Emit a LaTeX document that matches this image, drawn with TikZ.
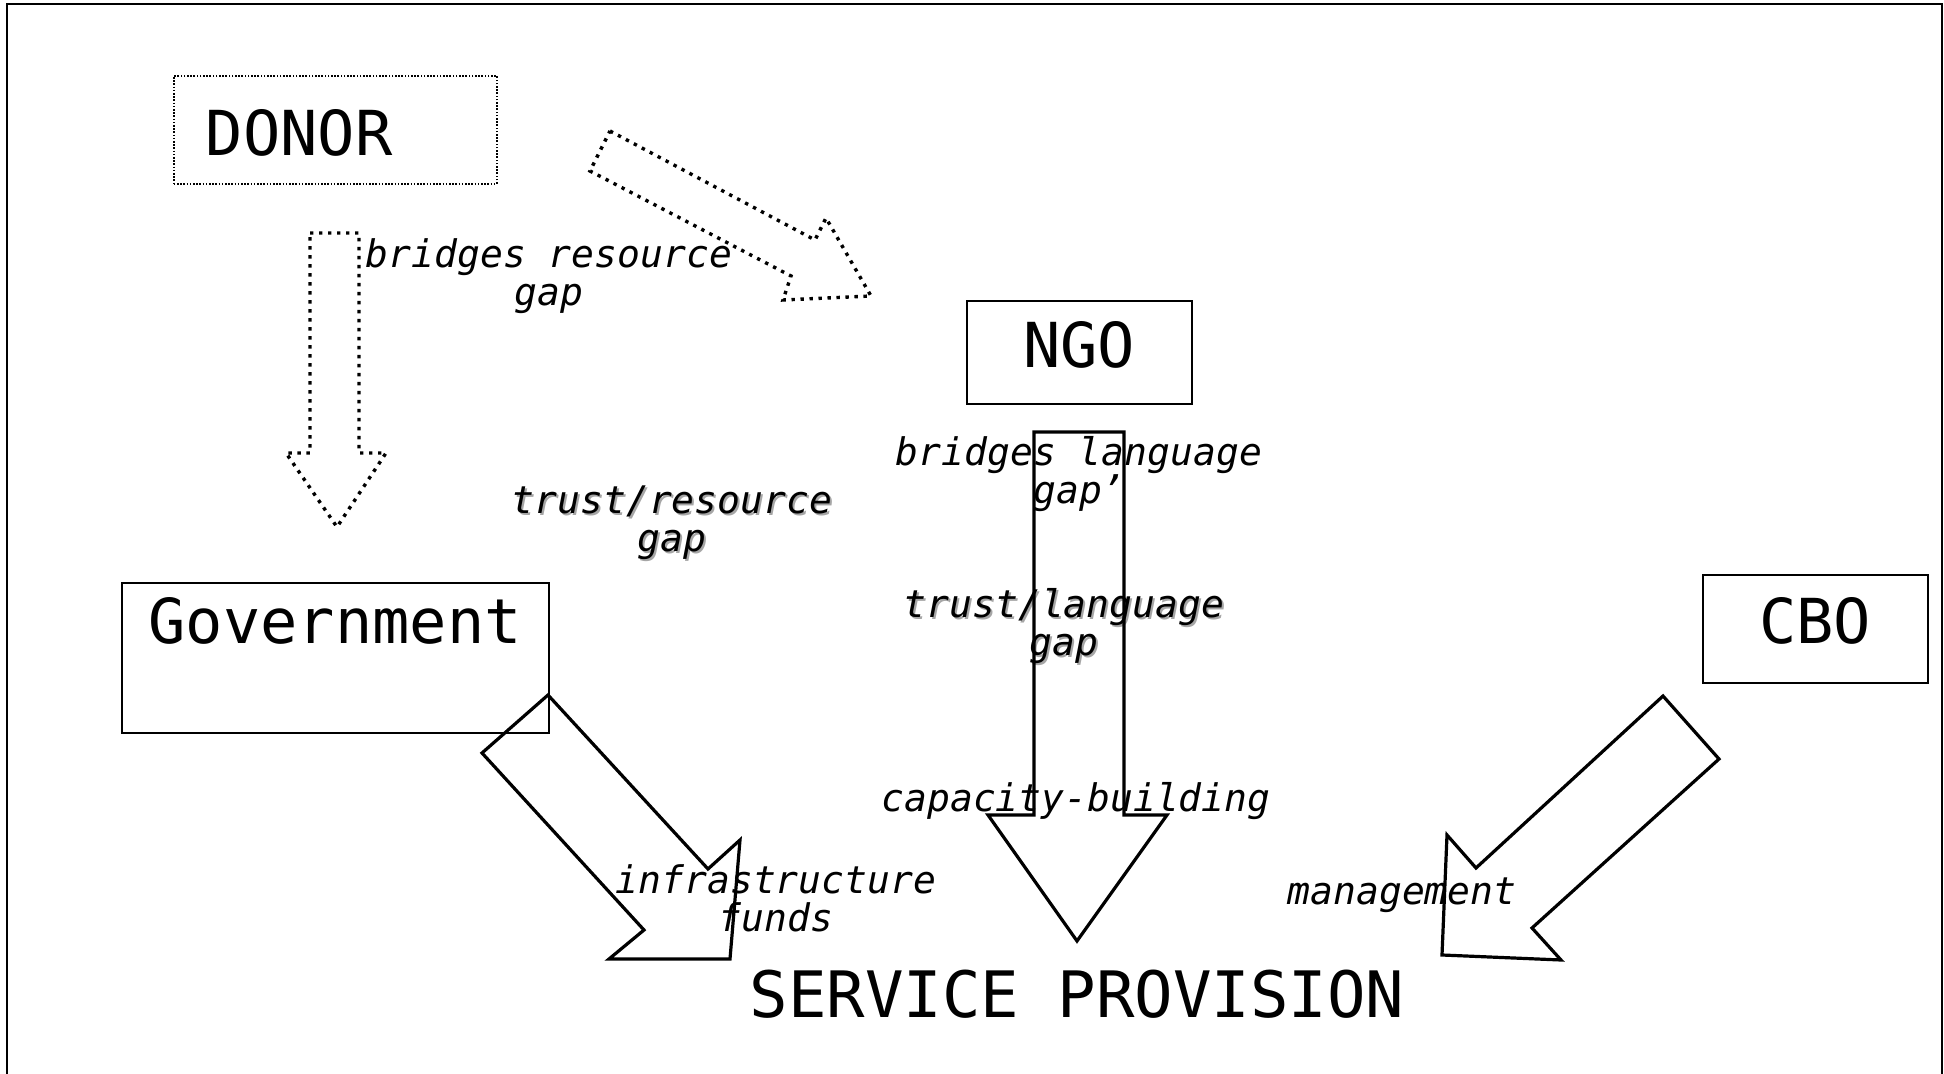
\documentclass[tikz,border=0pt]{standalone}
\usepackage{fontspec}
\setmainfont{DejaVu Sans Mono}[ItalicFont={DejaVu Sans Mono Oblique}]
\newcommand{\shadowed}[1]{\rlap{\kern1pt\raisebox{-1pt}{\textcolor{black!35}{#1}}}#1}

\begin{document}
\begin{tikzpicture}[x={(0.5pt,0)}, y={(0,-0.5pt)},
  org node/.style={draw, line width=0.8pt, anchor=north west, inner sep=0pt, font=\fontsize{31}{36}\selectfont},
  donor node/.style={org node, dash pattern=on 0.8pt off 0.8pt},
  gap label/.style={inner sep=0pt, align=center, font=\fontsize{19}{19}\selectfont\itshape},
  block arrow/.style={draw, line width=1.6pt},
  dotted arrow/.style={draw, line width=1.7pt, dash pattern=on 1.7pt off 2.8pt}]
\useasboundingbox (0,0) rectangle (1944,1074);
\draw[line width=1.2pt] (7,1074) -- (7,4) -- (1942,4) -- (1942,1074);

\node[donor node, text width=129.5pt, align=left, inner xsep=16pt, text height=40pt, text depth=14pt] (donor) at (173,75) {DONOR};
\node[org node, minimum width=112.5pt, text height=33.5pt, text depth=18pt] (ngo) at (966,300) {NGO};
\node[org node, minimum width=213.5pt, text height=30.5pt, text depth=44.5pt] (gov) at (121,582) {Government};
\node[org node, minimum width=112.5pt, text height=34.5pt, text depth=19.5pt] (cbo) at (1702,574) {CBO};
\node[anchor=base, font=\fontsize{32}{38}\selectfont] (service) at (1077,1017) {SERVICE PROVISION};

\node[gap label] (resgap)    at (549,276)  {bridges resource\\gap};
\node[gap label] (trustres)  at (672,524)  {\shadowed{trust/resource}\\\shadowed{gap}};
\node[gap label] (langgap)   at (1079,474) {bridges language\\gap’};
\node[gap label] (trustlang) at (1064,627) {\shadowed{trust/language}\\\shadowed{gap}};
\node[gap label] (capacity)  at (1076,801) {capacity-building};
\node[gap label] (infra)     at (776,898)  {infrastructure\\funds};
\node[gap label] (mgmt)      at (1402,895) {management};

\draw[dotted arrow] (310,233) -- (359,233) -- (359,453) -- (386,453) -- (337,527) -- (286,453) -- (310,453) -- cycle;
\draw[dotted arrow] (610,131) -- (815,240) -- (826,218) -- (871,296) -- (783,300) -- (791,276) -- (590,171) -- cycle;
\draw[block arrow] (548,695) -- (708,869) -- (740,840) -- (730,959) -- (609,959) -- (644,930) -- (482,753) -- cycle;
\draw[block arrow] (1034,432) -- (1124,432) -- (1124,815) -- (1167,815) -- (1077,941) -- (988,815) -- (1034,815) -- cycle;
\draw[block arrow] (1663,696) -- (1719,759) -- (1532,928) -- (1561,960) -- (1442,955) -- (1447,835) -- (1476,868) -- cycle;
\end{tikzpicture}
\end{document}
